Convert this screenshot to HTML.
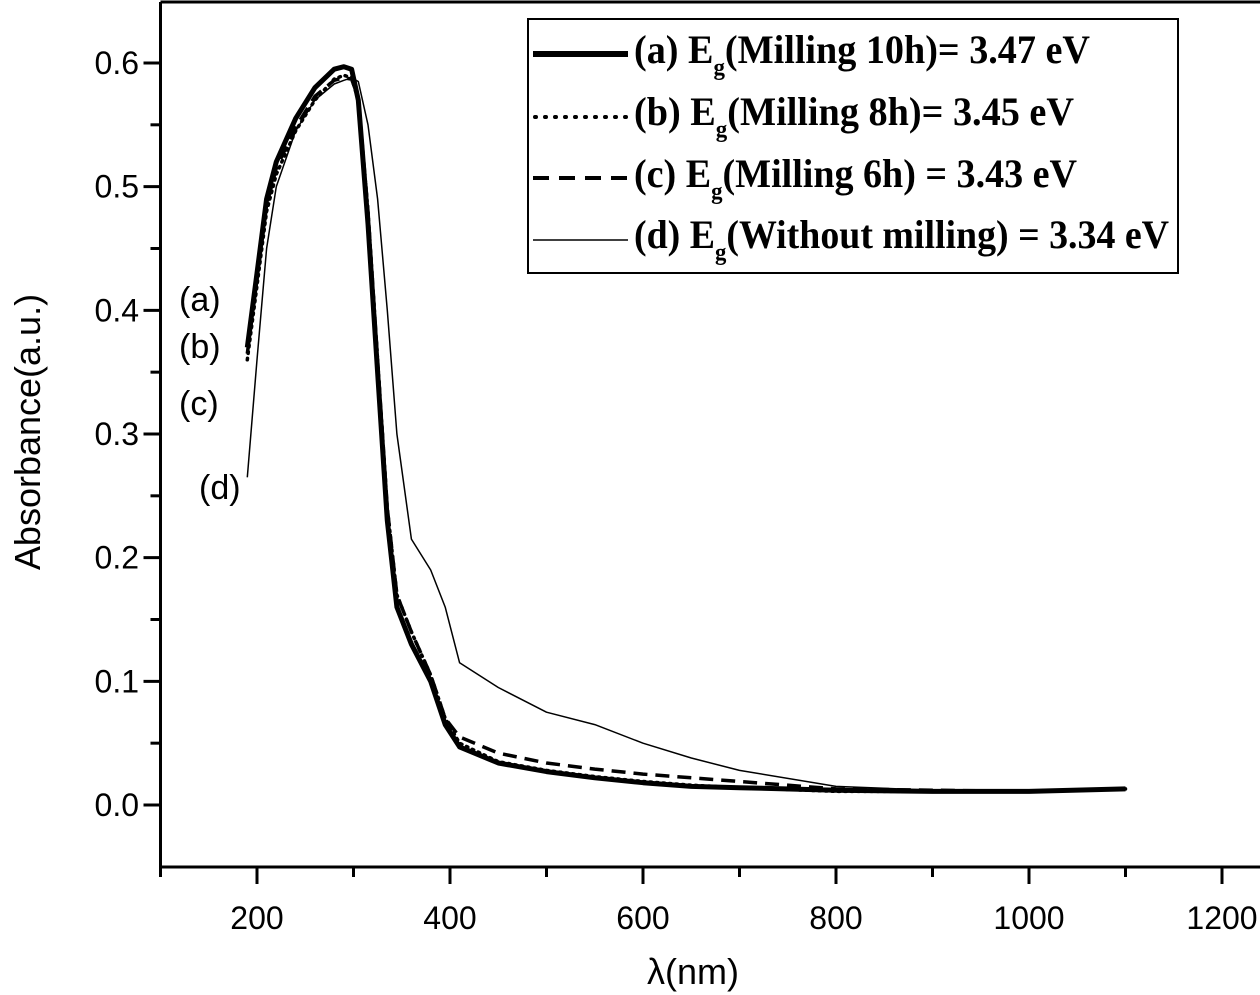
<!DOCTYPE html>
<html><head><meta charset="utf-8"><style>
html,body{margin:0;padding:0;background:#fff;}
svg{display:block;}
</style></head><body>
<svg id="chart" width="1260" height="995" viewBox="0 0 1260 995" xmlns="http://www.w3.org/2000/svg">
<g id="axes"></g>
<g id="series"></g>
<g id="legend">
<rect x="528" y="19" width="650" height="254" fill="#fff" stroke="#000" stroke-width="2"/>
<line x1="533" y1="54" x2="628" y2="54" stroke="#000" stroke-width="6"/>
<line x1="535" y1="117" x2="628" y2="117" stroke="#000" stroke-width="4" stroke-dasharray="1 9" stroke-linecap="round"/>
<line x1="533" y1="178" x2="628" y2="178" stroke="#000" stroke-width="4" stroke-dasharray="16 10"/>
<line x1="533" y1="240" x2="628" y2="240" stroke="#000" stroke-width="1.5"/>
<g font-family="Liberation Serif, serif" font-weight="bold" font-size="40" fill="#000">
<text x="634" y="63" textLength="456" lengthAdjust="spacingAndGlyphs">(a)  E<tspan font-size="24" dy="12">g</tspan><tspan dy="-12">(Milling 10h)= 3.47 eV</tspan></text>
<text x="634" y="125" textLength="440" lengthAdjust="spacingAndGlyphs">(b)  E<tspan font-size="24" dy="12">g</tspan><tspan dy="-12">(Milling 8h)= 3.45 eV</tspan></text>
<text x="634" y="187" textLength="443" lengthAdjust="spacingAndGlyphs">(c)  E<tspan font-size="24" dy="12">g</tspan><tspan dy="-12">(Milling 6h) = 3.43 eV</tspan></text>
<text x="634" y="248" textLength="535" lengthAdjust="spacingAndGlyphs">(d)  E<tspan font-size="24" dy="12">g</tspan><tspan dy="-12">(Without milling) = 3.34 eV</tspan></text>
</g>
</g>
<g font-family="Liberation Sans, sans-serif" font-size="34" fill="#000">
<text x="179" y="311">(a)</text>
<text x="179" y="358">(b)</text>
<text x="179" y="415">(c)</text>
<text x="199" y="499">(d)</text>
<text transform="translate(40,432) rotate(-90)" text-anchor="middle" font-size="36">Absorbance(a.u.)</text>
<text x="693" y="984" text-anchor="middle" font-size="36">λ(nm)</text>
</g>
</svg>
<script>
const wl = [190,200,210,220,240,260,280,290,298,305,315,325,335,345,360,380,395,410,450,500,550,600,650,700,800,900,1000,1100];
const seriesA = [0.37,0.43,0.49,0.52,0.555,0.58,0.595,0.597,0.595,0.57,0.47,0.35,0.23,0.16,0.13,0.10,0.065,0.047,0.034,0.027,0.022,0.018,0.015,0.014,0.012,0.011,0.011,0.013];
const seriesB = [0.36,0.42,0.48,0.51,0.545,0.57,0.587,0.59,0.588,0.57,0.48,0.36,0.24,0.17,0.14,0.105,0.07,0.05,0.035,0.028,0.023,0.019,0.016,0.014,0.011,0.011,0.011,0.013];
const seriesC = [0.365,0.425,0.485,0.515,0.548,0.573,0.586,0.588,0.587,0.572,0.48,0.36,0.24,0.17,0.14,0.105,0.07,0.055,0.042,0.034,0.029,0.025,0.022,0.019,0.013,0.012,0.011,0.013];
const seriesD = [0.265,0.36,0.45,0.5,0.545,0.57,0.583,0.586,0.588,0.585,0.55,0.49,0.40,0.30,0.215,0.19,0.16,0.115,0.095,0.075,0.065,0.05,0.038,0.028,0.015,0.012,0.011,0.013];
const xTicks = [200,400,600,800,1000,1200];
const yTicks = [0.0,0.1,0.2,0.3,0.4,0.5,0.6];

const NS='http://www.w3.org/2000/svg';
const X0=160.5, Y0=867, XMIN=100;
const sx = v => X0 + (v-XMIN)*0.965;
const sy = v => 805 - v*1236.7;
function mk(tag, attrs, parent){const e=document.createElementNS(NS,tag);for(const k in attrs)e.setAttribute(k,attrs[k]);parent.appendChild(e);return e;}
const axes=document.getElementById('axes');
let fr=mk('path',{d:`M${X0} 2 L${X0} ${Y0} L1260 ${Y0} M${X0} 2 L1260 2`,fill:'none',stroke:'#000','stroke-width':3},axes);


for(let v=100; v<=1200; v+=100){
  const major = v%200===0;
  const t=mk('line',{x1:sx(v),x2:sx(v),y1:Y0,y2:Y0+(major?17:10),stroke:'#000','stroke-width':3},axes);
  
  
}
xTicks.forEach(v=>{
  const t=mk('text',{x:sx(v),y:929,'text-anchor':'middle','font-family':'Liberation Sans, sans-serif','font-size':32},axes);
  t.textContent=v;
  
  
});
for(let i=-1;i<=13;i++){
  const v=i*0.05; const y=sy(v); if(y>Y0-2||y<4) continue;
  const major=i%2===0;
  const t=mk('line',{x1:X0-(major?17:10),x2:X0,y1:y,y2:y,stroke:'#000','stroke-width':3},axes);
  
  
}
yTicks.forEach(v=>{
  const t=mk('text',{x:139,y:sy(v)+11,'text-anchor':'end','font-family':'Liberation Sans, sans-serif','font-size':32},axes);
  t.textContent=v.toFixed(1);
  
  
});
const ser=document.getElementById('series');
function line(vals, style, name){
  const d=vals.map((v,i)=>(i?'L':'M')+sx(wl[i]).toFixed(1)+' '+sy(v).toFixed(1)).join(' ');
  const p=mk('path',Object.assign({d:d,fill:'none',stroke:'#000','stroke-linejoin':'round'},style),ser);
  
  
}
line(seriesD,{'stroke-width':1.5},'series-d-without-milling');
line(seriesC,{'stroke-width':3.5,'stroke-dasharray':'14 8'},'series-c-milling-6h');
line(seriesB,{'stroke-width':3.5,'stroke-dasharray':'1.5 5','stroke-linecap':'round'},'series-b-milling-8h');
line(seriesA,{'stroke-width':5},'series-a-milling-10h');
</script>
</body></html>
